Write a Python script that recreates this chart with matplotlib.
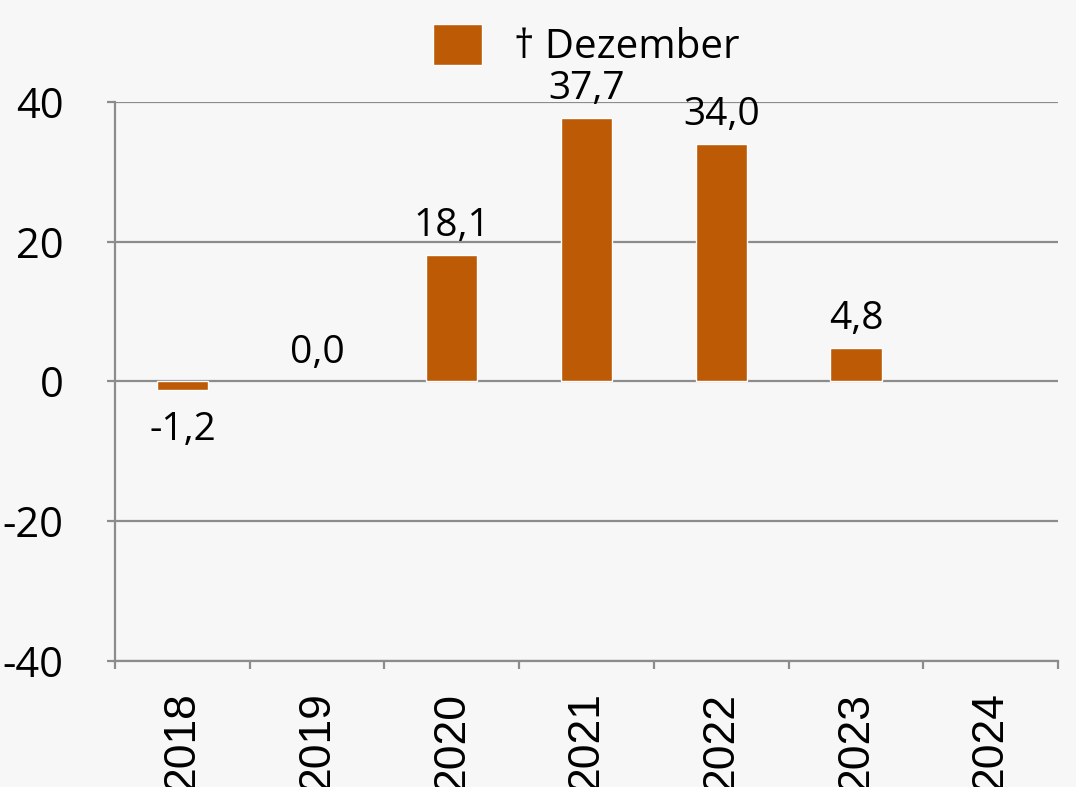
import numpy as np
import matplotlib.pyplot as plt
from matplotlib.patches import Patch

years = ["2018", "2019", "2020", "2021", "2022", "2023", "2024"]
values = [-1.2, 0.0, 18.1, 37.7, 34.0, 4.8]
legend_label = "† Dezember"
y_ticks = [-40, -20, 0, 20, 40]

bar_color = "#BD5A06"
grid_color = "#8C8C8C"
bg = "#F7F7F7"
num_font = ["Open Sans", "DejaVu Sans"]

fig = plt.figure(figsize=(10.76, 7.87), dpi=100, facecolor=bg)
ax = fig.add_axes([0.1069, 0.1601, 0.8764, 0.7103], facecolor=bg)

x = np.arange(len(values))
edges = ["none" if v == 0 else "white" for v in values]
bars = ax.bar(x, values, width=0.38, color=bar_color, edgecolor=edges,
              linewidth=1, zorder=3)

for xi, v in zip(x, values):
    txt = f"{v:.1f}".replace(".", ",")
    if v < 0:
        ax.annotate(txt, (xi, v), xytext=(0, -15), textcoords="offset points",
                    ha="center", va="top", fontsize=28, family=num_font)
    else:
        ax.annotate(txt, (xi, v), xytext=(0, 7), textcoords="offset points",
                    ha="center", va="bottom", fontsize=28, family=num_font)

ax.set_xlim(-0.5, len(years) - 0.5)
ax.set_ylim(-40, 40)
ax.set_yticks(y_ticks)
ax.set_yticklabels([str(t) for t in y_ticks], fontsize=30, family=num_font)
ax.yaxis.grid(True, color=grid_color, linewidth=1.6, zorder=0)
ax.set_axisbelow(True)

ax.set_xticks(np.arange(len(years) + 1) - 0.5)
ax.set_xticklabels([])
ax.set_xticks(np.arange(len(years)), minor=True)
ax.set_xticklabels(years, minor=True, rotation=90, fontsize=32,
                   family="Liberation Sans", va="top")
ax.tick_params(axis="x", which="minor", length=0, pad=22)
ax.tick_params(axis="x", which="major", length=6, width=1.6, color=grid_color)
ax.tick_params(axis="y", length=6, width=1.6, color=grid_color, pad=31)

for s in ["top", "right"]:
    ax.spines[s].set_visible(False)
for s in ["left", "bottom"]:
    ax.spines[s].set_color(grid_color)
    ax.spines[s].set_linewidth(1.6)

handle = Patch(facecolor=bar_color, edgecolor="white", linewidth=1)
fig.legend([handle], [legend_label], loc="upper center",
           bbox_to_anchor=(0.545, 1.0), frameon=False,
           prop={"family": num_font, "size": 29},
           handlelength=1.2, handleheight=1.2, handletextpad=0.8,
           borderaxespad=0.2)

fig.savefig("out.png", dpi=100, facecolor=bg)
